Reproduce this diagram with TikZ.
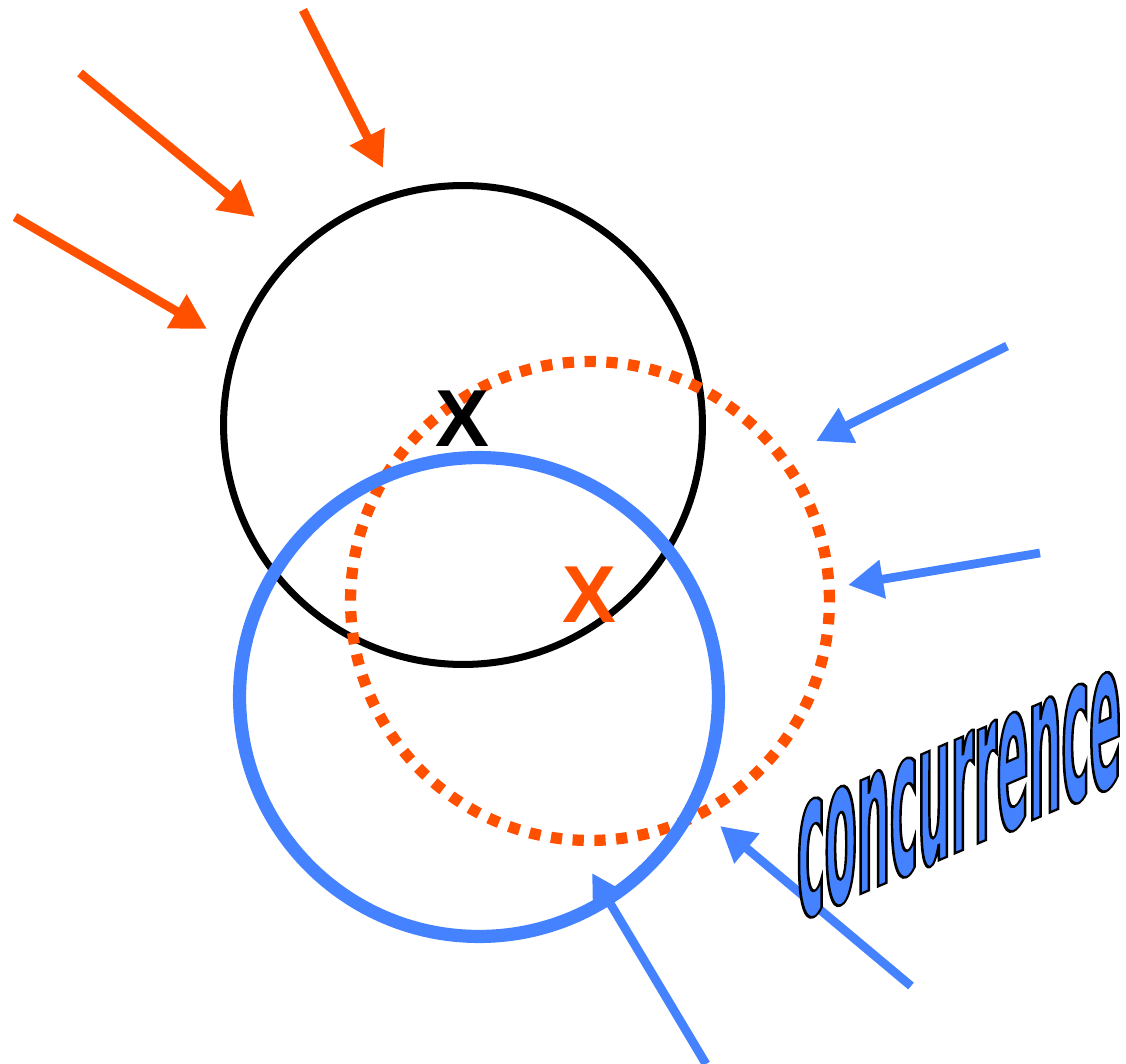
\documentclass[tikz,border=0pt]{standalone}
\usepackage{fontspec}
\setsansfont{Liberation Sans}
\newfontfamily\wordart{DejaVu Sans}[FakeStretch=0.225]
\usetikzlibrary{arrows.meta}
\definecolor{hot}{RGB}{255,80,0}
\definecolor{cool}{RGB}{68,130,255}
\tikzset{
  ring/.style={circle,inner sep=0pt,minimum size=9.58cm},
  push/.style={line width=5pt,-{Triangle[length=20pt,width=21pt]}},
  cross/.style={inner sep=0pt,font=\sffamily\bfseries\fontsize{46}{46}\selectfont},
}
% filled glyphs with a thin black outline (text render mode 2)
\newcommand{\outlined}[1]{\special{pdf:literal direct 2 Tr 0 0 0 RG 1.4 w}#1\special{pdf:literal direct 0 Tr}}

\begin{document}
\begin{tikzpicture}[x=0.02cm,y=-0.02cm]
  \useasboundingbox (0,0) rectangle (1126,1064);
  % the three circles
  \node[ring,draw,line width=4pt]  (old) at (463,425) {};
  \node[ring,draw=hot,line width=6.4pt,dash pattern=on 6.4pt off 6pt] (mid) at (590,601) {};
  \node[ring,draw=cool,line width=7.5pt] (new) at (479,697) {};
  % centres
  \node[cross]          (xold) at (462,419) {X};
  \node[cross,text=hot] (xmid) at (589,595) {X};
  % pushes from the upper left
  \coordinate (o1s) at (303,10);   \coordinate (o1e) at (383,168);
  \coordinate (o2s) at (80,73);    \coordinate (o2e) at (255,217);
  \coordinate (o3s) at (15,217);   \coordinate (o3e) at (207,329);
  \draw[push,hot] (o1s) -- (o1e);
  \draw[push,hot] (o2s) -- (o2e);
  \draw[push,hot] (o3s) -- (o3e);
  % pushes from the right and below
  \coordinate (b1s) at (1007,346); \coordinate (b1e) at (816,441);
  \coordinate (b2s) at (1040,553); \coordinate (b2e) at (848,585);
  \coordinate (b3s) at (911,986);  \coordinate (b3e) at (720,826);
  \coordinate (b4s) at (706,1064); \coordinate (b4e) at (592,873);
  \draw[push,cool] (b1s) -- (b1e);
  \draw[push,cool] (b2s) -- (b2e);
  \draw[push,cool] (b3s) -- (b3e);
  \draw[push,cool] (b4s) -- (b4e);
  % label
  \node[inner sep=0pt,yslant=0.43,font=\wordart\bfseries\fontsize{118}{118}\selectfont]
    (word) at (959,795) {\color{cool}\outlined{concurrence}};
\end{tikzpicture}
\end{document}
